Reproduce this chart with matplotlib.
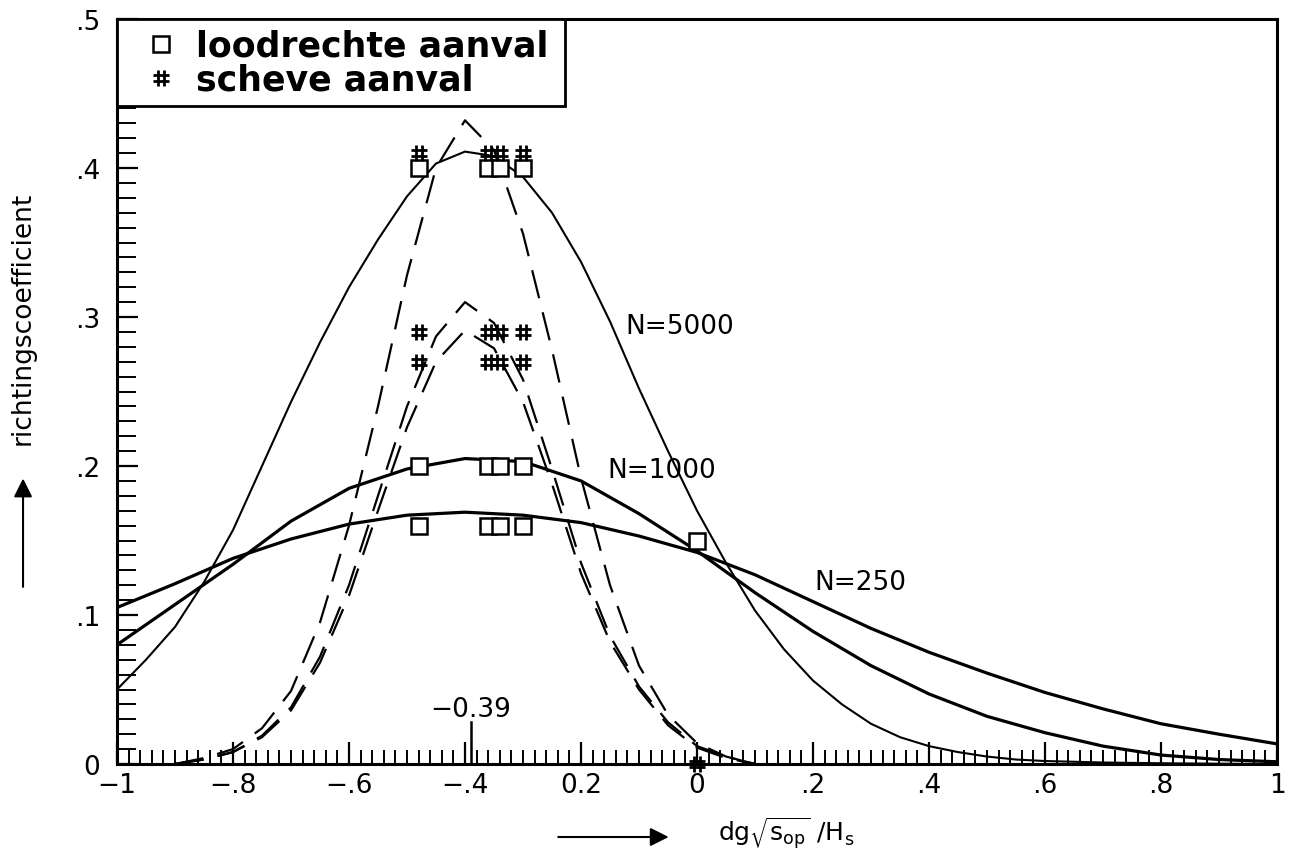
import matplotlib
matplotlib.use('Agg')
import matplotlib.pyplot as plt
from matplotlib.path import Path
from matplotlib.lines import Line2D
from matplotlib.ticker import MultipleLocator, FixedLocator, FixedFormatter

plt.rcParams['font.family'] = ['DejaVu Sans']
plt.rcParams['mathtext.fontset'] = 'dejavusans'
plt.rcParams['mathtext.default'] = 'regular'

# ---------------- data ----------------
# solid curves (loodrechte aanval)
x_n5000 = [-1.00, -0.95, -0.90, -0.85, -0.80, -0.75, -0.70, -0.65, -0.60, -0.55,
           -0.50, -0.45, -0.40, -0.35, -0.30, -0.25, -0.20, -0.15, -0.10, -0.05,
           0.00, 0.05, 0.10, 0.15, 0.20, 0.25, 0.30, 0.35, 0.40, 0.45,
           0.50, 0.55, 0.60, 0.70, 0.80, 0.90, 1.00]
y_n5000 = [0.050, 0.070, 0.092, 0.122, 0.157, 0.200, 0.243, 0.283, 0.320, 0.352,
           0.381, 0.403, 0.411, 0.408, 0.394, 0.370, 0.337, 0.297, 0.252, 0.210,
           0.170, 0.135, 0.103, 0.077, 0.056, 0.040, 0.027, 0.018, 0.012, 0.008,
           0.005, 0.003, 0.002, 0.001, 0.0005, 0.0002, 0.0]

x_wide = [-1.0, -0.9, -0.8, -0.7, -0.6, -0.5, -0.4, -0.3, -0.2, -0.1,
          0.0, 0.1, 0.2, 0.3, 0.4, 0.5, 0.6, 0.7, 0.8, 0.9, 1.0]
y_n1000 = [0.080, 0.107, 0.134, 0.163, 0.185, 0.198, 0.205, 0.203, 0.190, 0.168,
           0.143, 0.115, 0.089, 0.066, 0.047, 0.032, 0.021, 0.012, 0.006, 0.003, 0.0015]
y_n250 = [0.105, 0.121, 0.138, 0.151, 0.161, 0.167, 0.169, 0.167, 0.162, 0.153,
          0.142, 0.127, 0.109, 0.091, 0.075, 0.061, 0.048, 0.037, 0.027, 0.020, 0.0135]

# dashed curves (scheve aanval)
x_dash = [-0.90, -0.85, -0.80, -0.75, -0.70, -0.65, -0.60, -0.55, -0.50, -0.45,
          -0.40, -0.35, -0.30, -0.25, -0.20, -0.15, -0.10, -0.05, 0.00, 0.05, 0.10]
y_d5000 = [0.000, 0.004, 0.010, 0.024, 0.049, 0.095, 0.160, 0.240, 0.328, 0.400,
           0.432, 0.412, 0.356, 0.278, 0.192, 0.120, 0.066, 0.033, 0.014, 0.005, 0.000]
y_d1000 = [0.000, 0.003, 0.008, 0.019, 0.038, 0.072, 0.120, 0.180, 0.240, 0.287,
           0.310, 0.296, 0.258, 0.198, 0.135, 0.086, 0.052, 0.028, 0.012, 0.005, 0.000]
y_d250 = [0.000, 0.003, 0.008, 0.018, 0.036, 0.068, 0.113, 0.170, 0.226, 0.270,
          0.291, 0.279, 0.243, 0.188, 0.128, 0.082, 0.050, 0.026, 0.011, 0.004, 0.000]

# measured points
meas_x = [-0.48, -0.36, -0.34, -0.30]
lood_levels = [0.40, 0.20, 0.16]
scheve_levels = [0.41, 0.29, 0.27]
lood_extra = (0.0, 0.15)
scheve_extra = (0.0, 0.0)

curve_labels = ['N=5000', 'N=1000', 'N=250']
label_pos = [(-0.124, 0.294), (-0.155, 0.197), (0.203, 0.122)]
peak_value = -0.39

xtick_vals = [-1.0, -0.8, -0.6, -0.4, -0.2, 0.0, 0.2, 0.4, 0.6, 0.8, 1.0]
xtick_text = ['\u22121', '\u2212.8', '\u2212.6', '\u2212.4', '0.2', '0', '.2', '.4', '.6', '.8', '1']
ytick_vals = [0.0, 0.1, 0.2, 0.3, 0.4, 0.5]
ytick_text = ['0', '.1', '.2', '.3', '.4', '.5']

# ---------------- figure ----------------
W, H = 1289, 854
fig = plt.figure(figsize=(W / 100, H / 100), dpi=100)
ax = fig.add_axes([117 / W, 1 - 765 / H, 1160 / W, 745 / H])

hash_path = Path([(-0.35, -1), (-0.35, 1), (0.35, -1), (0.35, 1),
                  (-1, -0.35), (1, -0.35), (-1, 0.35), (1, 0.35)],
                 [Path.MOVETO, Path.LINETO] * 4)

ax.plot(x_n5000, y_n5000, color='black', lw=1.5)
ax.plot(x_wide, y_n1000, color='black', lw=2.3)
ax.plot(x_wide, y_n250, color='black', lw=2.3)

for yd in (y_d5000, y_d1000, y_d250):
    ax.plot(x_dash, yd, color='black', lw=1.6, dashes=(13, 6.5))

sq_x = [x for _ in lood_levels for x in meas_x] + [lood_extra[0]]
sq_y = [y for y in lood_levels for _ in meas_x] + [lood_extra[1]]
hs_x = [x for _ in scheve_levels for x in meas_x] + [scheve_extra[0]]
hs_y = [y for y in scheve_levels for _ in meas_x] + [scheve_extra[1]]

ax.plot(sq_x, sq_y, linestyle='none', marker='s', markersize=11, mfc='white',
        mec='black', mew=1.8, zorder=5, clip_on=False)
ax.plot(hs_x, hs_y, linestyle='none', marker=hash_path, markersize=11,
        color='black', mew=2.0, zorder=6, clip_on=False)

for txt, (tx, ty) in zip(curve_labels, label_pos):
    ax.text(tx, ty, txt, fontsize=19, ha='left', va='center')

ax.plot([peak_value, peak_value], [0, 0.028], color='black', lw=1.8)
ax.text(peak_value, 0.037, '\u22120.39', fontsize=19, ha='center', va='center')

ax.set_xlim(-1, 1)
ax.set_ylim(0, 0.5)
ax.xaxis.set_major_locator(FixedLocator(xtick_vals))
ax.xaxis.set_major_formatter(FixedFormatter(xtick_text))
ax.xaxis.set_minor_locator(MultipleLocator(0.02))
ax.yaxis.set_major_locator(FixedLocator(ytick_vals))
ax.yaxis.set_major_formatter(FixedFormatter(ytick_text))
ax.yaxis.set_minor_locator(MultipleLocator(0.01))

ax.tick_params(axis='x', which='major', direction='in', length=16, width=1.6,
               labelsize=19, pad=6)
ax.tick_params(axis='x', which='minor', direction='in', length=10, width=1.4)
ax.tick_params(axis='y', which='major', direction='in', length=15, width=1.6,
               labelsize=19, pad=12)
ax.tick_params(axis='y', which='minor', direction='in', length=14, width=1.4)
for sp in ax.spines.values():
    sp.set_linewidth(2.2)

# legend
handles = [Line2D([], [], linestyle='none', marker='s', markersize=11, mfc='white',
                  mec='black', mew=1.8),
           Line2D([], [], linestyle='none', marker=hash_path, markersize=11,
                  color='black', mew=2.0)]
leg = ax.legend(handles, ['loodrechte aanval', 'scheve aanval'], loc='upper left',
                bbox_to_anchor=(0, 0, 0.386, 1.0), mode='expand', borderaxespad=0,
                prop={'weight': 'bold', 'size': 25}, handlelength=2.0,
                handletextpad=0.0, borderpad=0.28, labelspacing=0.0,
                fancybox=False, framealpha=1, edgecolor='black')
leg.get_frame().set_linewidth(2.0)

# axis titles with arrows
ax.text(0.577, -0.1035, r'$dg\sqrt{s_{op}}\ /H_s$', transform=ax.transAxes,
        fontsize=18, ha='center', va='baseline')
ax.annotate('', xy=(0.478, -0.098), xytext=(0.378, -0.098), xycoords='axes fraction',
            arrowprops=dict(arrowstyle='-|>', lw=1.5, color='black', mutation_scale=28),
            annotation_clip=False)
ax.text(-0.081, 0.60, 'richtingscoefficient', transform=ax.transAxes, rotation=90,
        fontsize=19, ha='center', va='center')
ax.annotate('', xy=(-0.081, 0.387), xytext=(-0.081, 0.234), xycoords='axes fraction',
            arrowprops=dict(arrowstyle='-|>', lw=1.5, color='black', mutation_scale=28),
            annotation_clip=False)

fig.savefig('out.png', dpi=100)
